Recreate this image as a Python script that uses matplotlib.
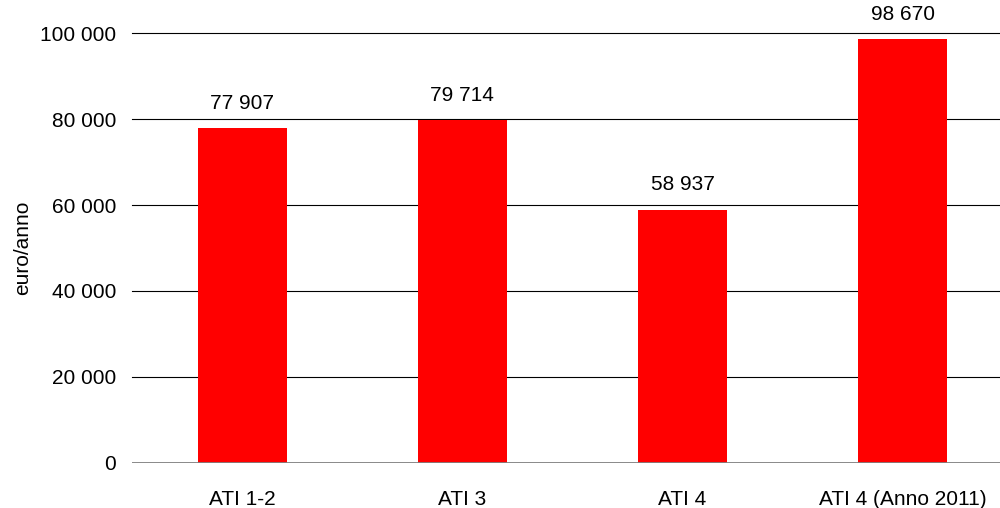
import matplotlib
matplotlib.use("Agg")
import matplotlib.pyplot as plt
from matplotlib.ticker import FuncFormatter

categories = ["ATI 1-2", "ATI 3", "ATI 4", "ATI 4 (Anno 2011)"]
values = [77907, 79714, 58937, 98670]
yticks = [0, 20000, 40000, 60000, 80000, 100000]

plt.rcParams['font.family'] = ['Liberation Sans', 'DejaVu Sans']

def fmt(v):
    return f"{int(v):,}".replace(",", " ")

fig = plt.figure(figsize=(10, 5.08), dpi=100)
ax = fig.add_axes([0.1322, 0.0892, 0.8804, 0.8452])

x = list(range(len(categories)))
bars = ax.bar(x, values, width=0.405, color="#ff0000", zorder=3)

ax.set_xlim(-0.5, len(categories) - 0.5)
ax.set_ylim(0, 100000)
ax.set_yticks(yticks)
ax.yaxis.set_major_formatter(FuncFormatter(lambda v, p: fmt(v)))
ax.set_xticks(x)
ax.set_xticklabels(categories)

for s in ax.spines.values():
    s.set_visible(False)

for t in yticks[1:]:
    ax.axhline(t, color="black", lw=0.8, zorder=1, clip_on=False)
ax.axhline(0, color="#808080", lw=1.3, zorder=4)

ax.tick_params(axis="both", length=0, labelsize=15, colors="black")
ax.tick_params(axis="x", pad=20)
ax.tick_params(axis="y", pad=11.5)

ax.set_ylabel("euro/anno", fontsize=15, labelpad=6)

for xi, v in zip(x, values):
    ax.annotate(fmt(v), xy=(xi, v), xytext=(0, 11), textcoords="offset points",
                ha="center", va="bottom", fontsize=15, annotation_clip=False)

fig.savefig("out.png", dpi=100)
